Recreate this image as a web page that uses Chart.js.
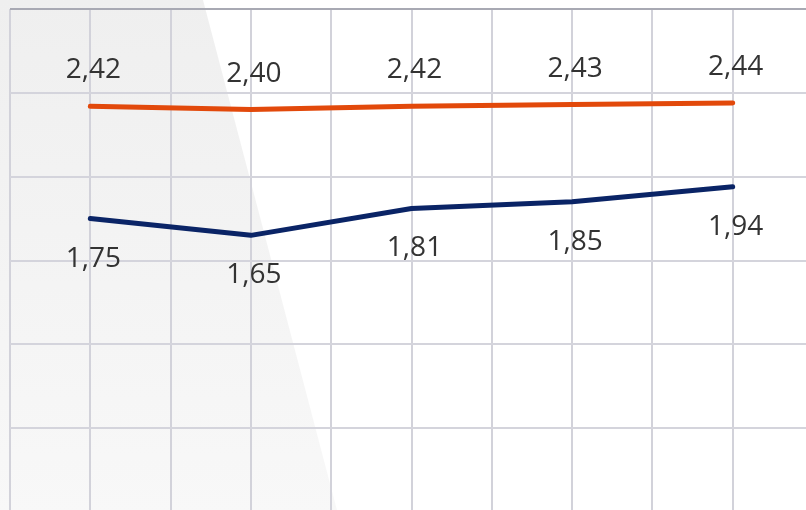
<!DOCTYPE html>
<html>
<head>
<meta charset="utf-8">
<script src="https://cdn.jsdelivr.net/npm/chart.js@4/dist/chart.umd.min.js"></script>
<style>
  html, body { margin: 0; padding: 0; overflow: hidden; background: #fff; }
  canvas { display: block; }
</style>
</head>
<body>
<canvas id="lineChart" width="816" height="514"></canvas>
<script>
// 데이터
var categories = ['P1', 'P2', 'P3', 'P4', 'P5'];
var upperValues = [2.42, 2.40, 2.42, 2.43, 2.44];
var lowerValues = [1.75, 1.65, 1.81, 1.85, 1.94];
var yTicks = [0, 0.5, 1, 1.5, 2, 2.5, 3];

// 카테고리 인덱스를 x 좌표로 사용
function toPoints(values) {
  return values.map(function (v, i) {
    return { x: i, y: v };
  });
}

// 왼쪽 배경의 사선 음영
var backdropPlugin = {
  id: 'backdrop',
  beforeDraw: function (chart) {
    var ctx = chart.ctx;
    var h = chart.height;
    ctx.save();
    var grad = ctx.createLinearGradient(0, 0, 0, h);
    grad.addColorStop(0, '#efefef');
    grad.addColorStop(1, '#f8f8f8');
    ctx.fillStyle = grad;
    ctx.beginPath();
    ctx.moveTo(0, 0);
    ctx.lineTo(203, 0);
    ctx.lineTo(338, h);
    ctx.lineTo(0, h);
    ctx.closePath();
    ctx.fill();
    ctx.restore();
  }
};

// 값 라벨 (위 선은 위쪽, 아래 선은 아래쪽)
var valueLabelPlugin = {
  id: 'valueLabels',
  afterDatasetsDraw: function (chart) {
    var ctx = chart.ctx;
    ctx.save();
    ctx.font = '28px "Open Sans", sans-serif';
    ctx.fillStyle = '#333333';
    ctx.textAlign = 'center';
    ctx.textBaseline = 'middle';
    chart.data.datasets.forEach(function (ds, di) {
      var meta = chart.getDatasetMeta(di);
      var dy = ds.labelOffset;
      meta.data.forEach(function (pt, i) {
        var txt = ds.data[i].y.toFixed(2).replace('.', ',');
        ctx.fillText(txt, pt.x + 3, pt.y + dy);
      });
    });
    ctx.restore();
  }
};

var ctx = document.getElementById('lineChart').getContext('2d');
new Chart(ctx, {
  type: 'line',
  data: {
    labels: categories,
    datasets: [
      {
        data: toPoints(upperValues),
        borderColor: '#e2490b',
        borderWidth: 5,
        labelOffset: -36
      },
      {
        data: toPoints(lowerValues),
        borderColor: '#0a2466',
        borderWidth: 5,
        labelOffset: 40
      }
    ]
  },
  options: {
    responsive: false,
    animation: false,
    devicePixelRatio: 1,
    layout: { padding: { left: 10, top: 9, right: 3, bottom: 2 } },
    elements: {
      line: { tension: 0, borderCapStyle: 'round', borderJoinStyle: 'round', fill: false },
      point: { radius: 0, hoverRadius: 0 }
    },
    plugins: {
      legend: { display: false },
      tooltip: { enabled: false }
    },
    scales: {
      x: {
        type: 'linear',
        min: -0.5,
        max: 4.5,
        ticks: { display: false, stepSize: 0.5 },
        border: { display: false },
        grid: { color: '#d2d2da', lineWidth: 2, drawTicks: false }
      },
      y: {
        min: yTicks[0],
        max: yTicks[yTicks.length - 1],
        afterBuildTicks: function (axis) {
          axis.ticks = yTicks.map(function (v) { return { value: v }; });
        },
        ticks: { display: false },
        border: { display: false },
        grid: {
          color: function (c) {
            return c.tick && c.tick.value === 3 ? '#a8a9b3' : '#d4d4dc';
          },
          lineWidth: 2,
          drawTicks: false
        }
      }
    }
  },
  plugins: [backdropPlugin, valueLabelPlugin]
});
</script>
</body>
</html>
